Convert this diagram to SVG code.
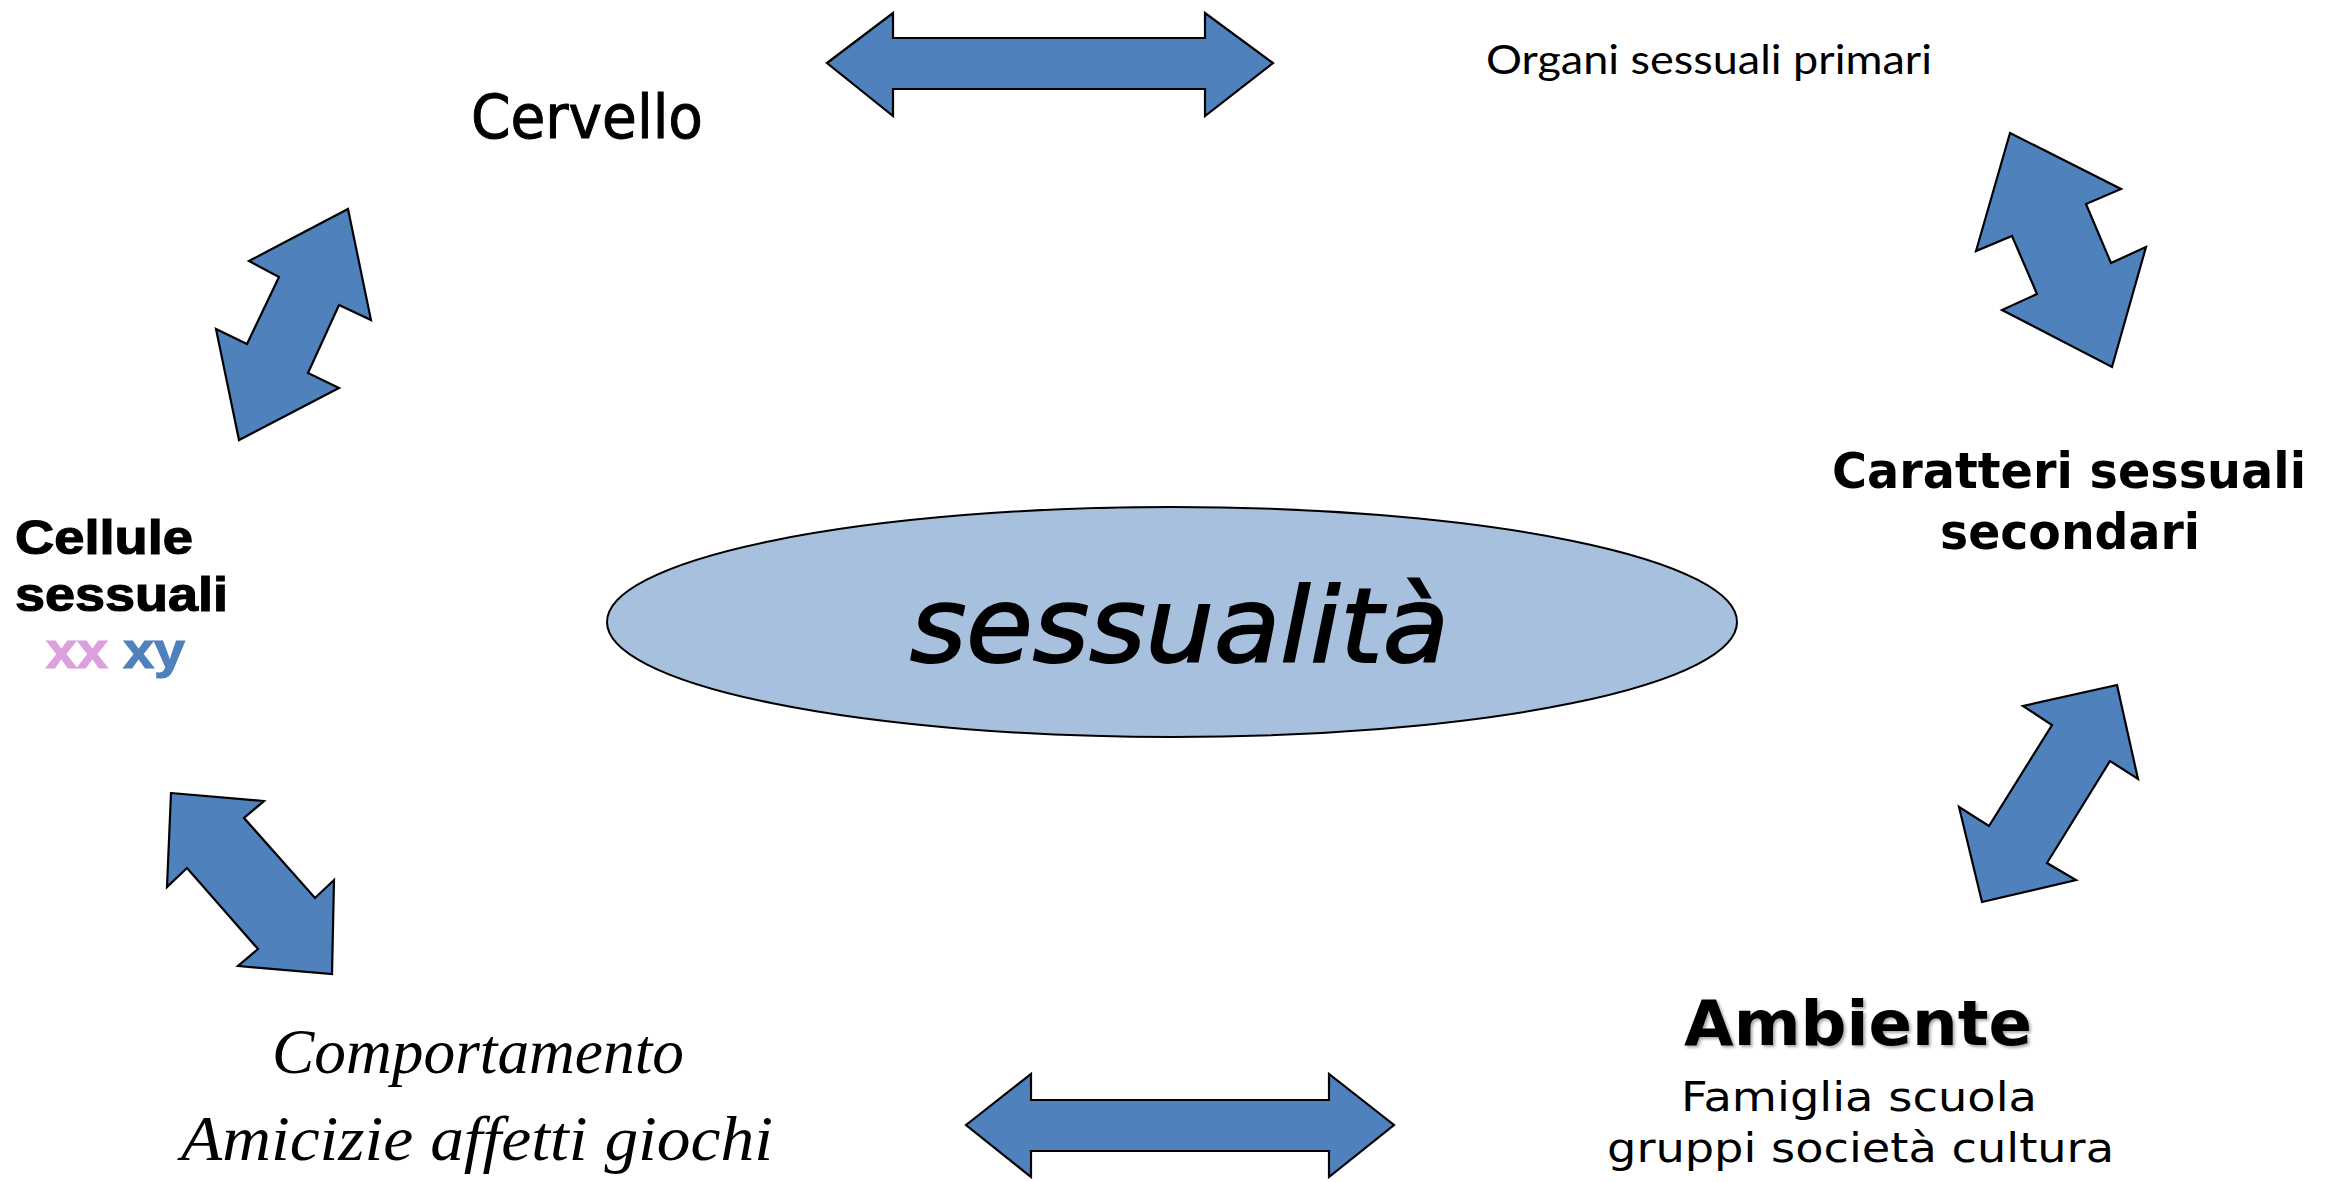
<svg xmlns="http://www.w3.org/2000/svg" width="2331" height="1182" viewBox="0 0 2331 1182">
<style>
.arrow{fill:#4f81bd;stroke:#000;stroke-width:2.2;stroke-linejoin:miter}
.t{fill:#000}
.comic{font-family:"DejaVu Sans","Liberation Sans",sans-serif}
.hum{font-family:"Lato","Open Sans",sans-serif}
.open{font-family:"DejaVu Sans","Open Sans",sans-serif}
.bold{font-family:"DejaVu Sans","Open Sans",sans-serif;font-weight:bold}
.ital{font-family:"Liberation Serif",serif;font-style:italic}
.arial{font-family:"Liberation Sans",Arial,sans-serif;font-weight:bold;stroke-width:1.2}
</style>
<defs>
<filter id="shadow" x="-10%" y="-20%" width="130%" height="150%">
<feDropShadow dx="2" dy="2" stdDeviation="1.5" flood-color="#000" flood-opacity="0.35"/>
</filter>
</defs>
<rect width="2331" height="1182" fill="#fff"/>
<g id="connectors">
<polygon class="arrow" points="827,63 893,13 893,38 1205,38 1205,13 1273,63 1205,116 1205,89 893,89 893,116"/>
<polygon class="arrow" points="966,1125 1031,1074 1031,1100 1329,1100 1329,1074 1394,1125 1329,1177 1329,1151 1031,1151 1031,1177"/>
<polygon class="arrow" points="348,209 371,320 339,305 308,373 339,388 239,440 216,329 247,344 279,277 249,261"/>
<polygon class="arrow" points="2010,133 2121,189 2086,204 2111,263 2146,247 2112,367 2002,310 2037,294 2012,236 1976,251"/>
<polygon class="arrow" points="171,793 264,801 244,818 315,898 334,880 332,974 238,966 258,949 187,868 167,887"/>
<polygon class="arrow" points="2117,685 2138,779 2110,761 2047,863 2076,880 1982,902 1959,807 1989,826 2052,725 2023,706"/>
</g>
<g id="center">
<ellipse cx="1172" cy="622" rx="565" ry="115" fill="#a7c0de" stroke="#000" stroke-width="2"/>
<text class="t comic" x="910" y="662" font-size="104" font-style="italic" stroke="#000" stroke-width="2" textLength="539" lengthAdjust="spacingAndGlyphs">sessualità</text>
</g>
<g id="cervello">
<text class="t comic" x="471" y="138" font-size="60" stroke="#000" stroke-width="1" textLength="232" lengthAdjust="spacingAndGlyphs">Cervello</text>
</g>
<g id="organi">
<text class="t hum" x="1486" y="74" font-size="40" textLength="446" lengthAdjust="spacingAndGlyphs">Organi sessuali primari</text>
</g>
<g id="caratteri">
<text class="t bold" x="1832" y="488" font-size="50" textLength="474" lengthAdjust="spacingAndGlyphs">Caratteri sessuali</text>
<text class="t bold" x="1940" y="549" font-size="50" textLength="260" lengthAdjust="spacingAndGlyphs">secondari</text>
</g>
<g id="ambiente">
<text class="t bold" x="1684" y="1045" font-size="62" textLength="348" lengthAdjust="spacingAndGlyphs" filter="url(#shadow)">Ambiente</text>
<text class="t open" x="1681" y="1111" font-size="41" textLength="356" lengthAdjust="spacingAndGlyphs">Famiglia scuola</text>
<text class="t open" x="1607" y="1162" font-size="41" textLength="507" lengthAdjust="spacingAndGlyphs">gruppi società cultura</text>
</g>
<g id="comportamento">
<text class="t ital" x="272" y="1073" font-size="64" textLength="412" lengthAdjust="spacingAndGlyphs">Comportamento</text>
<text class="t ital" x="181" y="1160" font-size="64" textLength="592" lengthAdjust="spacingAndGlyphs">Amicizie affetti giochi</text>
</g>
<g id="cellule">
<text class="arial" x="15" y="554" font-size="48" fill="#000" stroke="#000" textLength="178" lengthAdjust="spacingAndGlyphs">Cellule</text>
<text class="arial" x="15" y="611" font-size="48" fill="#000" stroke="#000" textLength="213" lengthAdjust="spacingAndGlyphs">sessuali</text>
<text class="arial" x="46" y="668" font-size="50" textLength="139" lengthAdjust="spacingAndGlyphs"><tspan fill="#dda0dd" stroke="#dda0dd">xx</tspan><tspan fill="#4f81bd" stroke="#4f81bd"> xy</tspan></text>
</g>
</svg>
